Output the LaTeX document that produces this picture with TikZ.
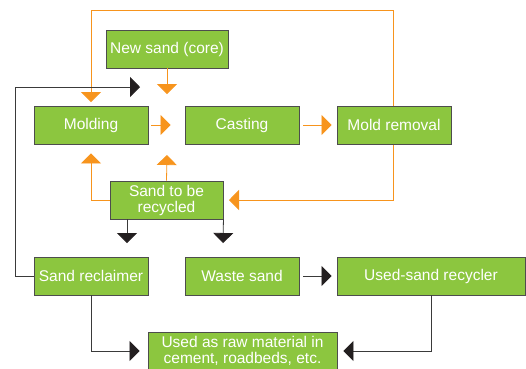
\documentclass[tikz,border=0pt]{standalone}
\usepackage{fontspec}
\setmainfont{Liberation Sans}
\usetikzlibrary{arrows.meta}
\definecolor{boxgreen}{HTML}{8CC63F}
\definecolor{boxedge}{HTML}{4D4D4D}
\definecolor{flow}{HTML}{F7941D}
\definecolor{darkline}{HTML}{3A3A3A}
\definecolor{tipblack}{HTML}{231F20}
\tikzset{
  box/.style={draw=boxedge, fill=boxgreen, text=white, line width=0.9pt,
    minimum height=38pt, inner sep=0pt, align=center,
    font=\fontsize{15.5}{16}\selectfont},
  oarrow/.style={draw=flow, line width=0.8pt,
    -{Triangle[length=10pt,width=20pt,fill=flow,color=flow]}},
  oline/.style={draw=flow, line width=0.8pt},
  barrow/.style={draw=darkline, line width=0.8pt,
    -{Triangle[length=10pt,width=20pt,fill=tipblack,color=tipblack]}},
  bline/.style={draw=darkline, line width=0.8pt},
}
\begin{document}
\begin{tikzpicture}[x=1pt,y=-1pt]
\useasboundingbox (0,0) rectangle (526,368);
\clip (0,0) rectangle (526,368);
% coordinates for free ends
\coordinate (top) at (393,10);
\coordinate (leftrail) at (15,87);
\coordinate (nstip) at (167,94);
\coordinate (rctip) at (167,155);
\coordinate (d1) at (127,243);
\coordinate (d2) at (223,243);
\coordinate (t1) at (140,87);

% orange loop (behind the boxes)
\draw[oline] (393,144) -- (top);
\draw[oarrow, shorten >=4pt] (top) -| (91,106);
\draw[oarrow, shorten >=6pt] (393,144) |- (223,200);

% boxes
\node[box, minimum width=122pt] (newsand) at (167,49) {New sand (core)};
\node[box, minimum width=114pt] (molding) at (91,125) {Molding};
\node[box, minimum width=114pt] (casting) at (242,125) {Casting};
\node[box, minimum width=114pt] (moldrem) at (394,125) {Mold removal};
\node[box, minimum width=113pt] (recyc) at (166.5,200) {Sand to be\\recycled};
\node[box, minimum width=114pt] (reclaim) at (91,276) {Sand reclaimer};
\node[box, minimum width=114pt] (waste) at (242,276) {Waste sand};
\node[box, minimum width=188pt] (recycler) at (431,276) {Used-sand recycler};
\node[box, minimum width=189pt] (raw) at (242.5,351) {Used as raw material in\\cement, roadbeds, etc.};

% orange arrows
\draw[oarrow] (newsand.south) -- (nstip);
\draw[oarrow, shorten <=3pt, shorten >=14pt] (molding.east) -- (casting.west);
\draw[oarrow, shorten <=4pt, shorten >=5pt] (casting.east) -- (moldrem.west);
\draw[oarrow, shorten >=9pt] (recyc.west) -| (molding.south);
\draw[oarrow] (recyc.north) -- (rctip);

% black arrows
\draw[barrow] (recyc.south west -| d1) -- (d1);
\draw[barrow] (recyc.south east) -- (d2);
\draw[barrow] (reclaim.west) -| (leftrail) -- (t1);
\draw[barrow, shorten <=4pt, shorten >=5pt] (waste.east) -- (recycler.west);
\draw[barrow, shorten >=8pt] (reclaim.south) |- (raw.west);
\draw[barrow, shorten >=6pt] (recycler.south) |- (raw.east);
\end{tikzpicture}
\end{document}
